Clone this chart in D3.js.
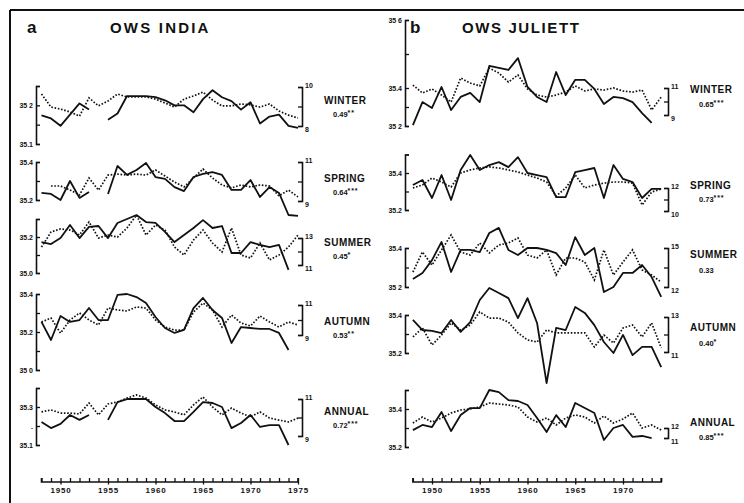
<!DOCTYPE html>
<html>
<head>
<meta charset="utf-8">
<script src="https://cdn.jsdelivr.net/npm/d3@7"></script>
<style>
  html, body { margin: 0; padding: 0; background: #fff; }
  svg { display: block; }
  text { font-family: 'Liberation Sans', Arial, sans-serif; font-weight: bold; fill: #111; }
</style>
</head>
<body>
<div id="chart"></div>
<script>
// ── OWS India / OWS Juliett: salinity (solid) vs temperature (dotted) ──

const seasons = ['WINTER', 'SPRING', 'SUMMER', 'AUTUMN', 'ANNUAL']
const indiaCorr = ['0.49', '0.64', '0.45', '0.53', '0.72']
const indiaStars = ['**', '***', '*', '**', '***']
const juliettCorr = ['0.65', '0.73', '0.33', '0.40', '0.85']
const juliettStars = ['***', '***', '', '*', '***']

const indiaYears = d3.range(1948, 1976)
const juliettYears = d3.range(1948, 1975)
const indiaXTicks = d3.range(1948, 1976)
const juliettXTicks = d3.range(1948, 1975)

// OWS India, 1948-1975 (null = no data)
const indiaWinterSal = [35.174, 35.166, 35.147, 35.176, 35.205, 35.189, null, 35.163, 35.179, 35.224, 35.224, 35.224, 35.221, 35.213, 35.200, 35.200, 35.182, 35.216, 35.239, 35.221, 35.211, 35.189, 35.208, 35.153, 35.171, 35.176, 35.147, 35.142]
const indiaWinterTemp = [9.64, 8.97, 8.87, 8.72, 8.51, 9.44, 9.03, 9.28, 9.64, 9.49, 9.49, 9.49, 9.38, 9.18, 8.97, 9.38, 9.54, 9.74, 9.33, 9.03, 9.03, 9.13, 9.08, 8.97, 9.13, 8.77, 8.56, 8.41]
const indiaSpringSal = [35.237, 35.232, 35.200, 35.300, 35.211, 35.242, null, 35.232, 35.379, 35.332, 35.358, 35.395, 35.321, 35.311, 35.268, 35.247, 35.321, 35.337, 35.347, 35.332, 35.253, 35.253, 35.305, 35.216, 35.268, 35.237, 35.121, 35.116]
const indiaSpringTemp = [null, 9.77, 9.77, 9.56, 9.31, 10.18, 9.56, 10.33, 10.38, 10.33, 10.38, 10.33, 10.59, 10.28, 9.97, 9.72, 10.18, 10.64, 10.18, 9.82, 9.67, 9.82, 9.72, 9.82, 9.77, 9.26, 9.56, 9.21]
const indiaSummerSal = [35.172, 35.161, 35.194, 35.267, 35.194, 35.256, 35.261, 35.194, 35.278, 35.300, 35.322, 35.283, 35.278, 35.228, 35.172, 35.211, 35.250, 35.294, 35.250, 35.261, 35.111, 35.111, 35.172, 35.156, 35.144, 35.156, 35.017, null]
const indiaSummerTemp = [12.33, 13.44, 13.67, 13.59, 13.22, 14.19, 13.0, 13.22, 13.07, 13.74, 14.70, 13.22, 13.96, 13.59, 12.33, 11.74, 12.85, 13.59, 12.63, 11.96, 13.74, 11.74, 11.52, 12.63, 11.37, 11.74, 12.33, 13.22]
const indiaAutumnSal = [35.253, 35.158, 35.284, 35.253, 35.263, 35.326, 35.263, 35.263, 35.395, 35.400, 35.384, 35.353, 35.279, 35.221, 35.195, 35.211, 35.326, 35.379, 35.316, 35.274, 35.142, 35.226, 35.221, 35.216, 35.216, 35.195, 35.105, null]
const indiaAutumnTemp = [9.87, 10.13, 9.13, 10.0, 10.47, 10.0, 9.67, 10.80, 10.67, 10.60, 10.87, 10.80, 10.0, 9.53, 9.33, 9.33, 10.53, 11.13, 10.67, 9.53, 10.33, 9.80, 9.60, 10.27, 9.87, 9.53, 9.87, 9.67]
const indiaAnnualSal = [35.221, 35.189, 35.211, 35.258, 35.232, 35.258, null, 35.232, 35.326, 35.342, 35.342, 35.342, 35.300, 35.268, 35.226, 35.226, 35.274, 35.326, 35.321, 35.300, 35.189, 35.216, 35.258, 35.195, 35.205, 35.205, 35.100, null]
const indiaAnnualTemp = [10.30, 10.41, 10.24, 10.24, 10.19, 10.78, 10.14, 10.73, 10.84, 11.05, 11.22, 11.05, 10.68, 10.41, 10.30, 10.14, 10.68, 11.11, 10.57, 10.14, 10.51, 10.24, 10.03, 10.30, 9.97, 9.86, 9.76, 9.97]

// OWS Juliett, 1948-1974
const juliettWinterSal = [35.205, 35.326, 35.295, 35.403, 35.284, 35.353, 35.374, 35.326, 35.465, 35.459, 35.453, 35.488, 35.403, 35.353, 35.326, 35.447, 35.363, 35.424, 35.424, 35.395, 35.316, 35.353, 35.347, 35.326, 35.268, 35.216, null]
const juliettWinterTemp = [11.22, 10.63, 10.93, 10.48, 9.96, 11.74, 11.37, 11.15, 12.48, 12.11, 11.44, 11.96, 10.93, 10.48, 10.33, 10.48, 10.70, 11.15, 10.78, 10.93, 10.85, 11.0, 10.78, 10.70, 10.85, 9.37, 10.33]
const juliettSpringSal = [35.335, 35.362, 35.265, 35.389, 35.254, 35.416, 35.497, 35.416, 35.443, 35.459, 35.432, 35.486, 35.400, 35.389, 35.378, 35.270, 35.270, 35.405, 35.416, 35.427, 35.265, 35.443, 35.368, 35.351, 35.265, 35.314, 35.314]
const juliettSpringTemp = [12.0, 12.26, 12.87, 12.52, 12.09, 13.30, 13.57, 13.74, 13.83, 13.74, 13.57, 13.39, 13.13, 12.87, 12.52, 11.30, 12.0, 13.13, 12.0, 12.26, 12.43, 12.52, 12.52, 12.43, 10.52, 11.65, 11.91]
const juliettSummerSal = [35.241, 35.272, 35.338, 35.431, 35.277, 35.390, 35.390, 35.379, 35.477, 35.503, 35.390, 35.364, 35.400, 35.400, 35.390, 35.374, 35.313, 35.456, 35.364, 35.400, 35.174, 35.200, 35.272, 35.272, 35.313, 35.251, 35.149]
const juliettSummerTemp = [13.15, 14.69, 13.69, 14.85, 16.0, 14.69, 14.46, 15.38, 14.62, 15.23, 15.38, 15.77, 14.46, 14.23, 14.85, 12.92, 14.23, 14.23, 13.92, 12.54, 14.85, 12.92, 13.92, 14.85, 13.31, 12.92, 12.38]
const juliettAutumnSal = [35.374, 35.321, 35.316, 35.305, 35.374, 35.311, 35.363, 35.479, 35.542, 35.516, 35.489, 35.384, 35.489, 35.358, 35.042, 35.332, 35.321, 35.442, 35.411, 35.347, 35.258, 35.200, 35.295, 35.189, 35.232, 35.232, 35.126]
const juliettAutumnTemp = [11.86, 12.37, 11.40, 11.97, 12.66, 12.26, 12.54, 13.29, 12.94, 12.94, 12.71, 12.09, 11.69, 11.57, 12.26, 12.09, 12.09, 12.09, 12.09, 11.29, 11.97, 11.51, 12.37, 12.54, 11.86, 12.66, 11.23]
const juliettAnnualSal = [35.289, 35.316, 35.305, 35.384, 35.284, 35.368, 35.405, 35.405, 35.500, 35.489, 35.447, 35.442, 35.421, 35.353, 35.279, 35.368, 35.305, 35.432, 35.405, 35.379, 35.237, 35.300, 35.316, 35.253, 35.258, 35.247, null]
const juliettAnnualTemp = [12.5, 13.1, 12.6, 13.0, 13.5, 13.8, 13.9, 14.1, 14.5, 14.4, 14.3, 14.1, 13.1, 12.6, 13.0, 12.3, 13.0, 13.3, 13.1, 12.5, 13.2, 12.5, 12.9, 13.5, 12.0, 12.3, 11.8]

// Axis ticks (salinity, left) and bracket ticks (temperature, right)
const indiaSalTicks = [[35.1, 35.15, 35.2, 35.25], [35.2, 35.3, 35.4], [35.0, 35.1, 35.2, 35.3], [35.0, 35.1, 35.2, 35.3, 35.4], [35.1, 35.2, 35.3, 35.4]]
const indiaSalLabels = [['35.1', '', '35 2', ''], ['35.2', '', '35.4'], ['35.0', '', '35.2', ''], ['35 0', '', '35.2', '', '35.4'], ['35.1', '.', '35.3', '']]
const indiaTempTicks = [[8, 9, 10], [9, 10, 11], [11, 12, 13], [9, 10, 11], [9, 10, 11]]
const juliettSalTicks = [[35.2, 35.3, 35.4, 35.5, 35.6], [35.2, 35.3, 35.4, 35.5], [35.2, 35.3, 35.4], [35.2, 35.3, 35.4], [35.2, 35.3, 35.4, 35.5]]
const juliettSalLabels = [['35 2', '', '35.4', '', '35 6'], ['35.2', '', '35.4', ''], ['35 2', '', '35.4'], ['35.2', '', '35.4'], ['35.2', '', '35.4', '']]
const juliettTempTicks = [[9, 10, 11], [10, 11, 12], [12, 13.5, 15], [11, 12, 13], [11, 12]]
const xTickLabels = [1950, 1955, 1960, 1965, 1970, 1975]

// ── layout (pixels) ──
const W = 744, H = 503
const layout = {
  india: {
    x: { domain: [1950, 1975], range: [60.5, 298] },
    axisX: 36, bracketX: 302, nameX: 324,
    rows: [
      { sal: [35.1, 35.25], salPx: [144, 86], tmp: [8, 10], tmpPx: [126, 87], nameY: 104, corrY: 117 },
      { sal: [35.2, 35.4], salPx: [200, 162], tmp: [9, 11], tmpPx: [201, 162], nameY: 182, corrY: 195 },
      { sal: [35.0, 35.3], salPx: [273, 219], tmp: [11, 13], tmpPx: [265, 238], nameY: 246, corrY: 259 },
      { sal: [35.0, 35.4], salPx: [370, 294], tmp: [9, 11], tmpPx: [335, 305], nameY: 325, corrY: 338 },
      { sal: [35.1, 35.4], salPx: [445, 388], tmp: [9, 11], tmpPx: [436, 399], nameY: 415, corrY: 428 },
    ],
  },
  juliett: {
    x: { domain: [1950, 1970], range: [432, 623] },
    axisX: 405, bracketX: 668, nameX: 690,
    rows: [
      { sal: [35.2, 35.4, 35.6], salPx: [126, 88, 20], tmp: [9, 11], tmpPx: [115, 88], nameY: 93, corrY: 107 },
      { sal: [35.2, 35.5], salPx: [210, 154.5], tmp: [10, 12], tmpPx: [211, 188], nameY: 189, corrY: 202 },
      { sal: [35.2, 35.4], salPx: [287, 248], tmp: [12, 15], tmpPx: [287, 248], nameY: 258, corrY: 273 },
      { sal: [35.2, 35.4], salPx: [353, 315], tmp: [11, 13], tmpPx: [352, 317], nameY: 331, corrY: 346 },
      { sal: [35.2, 35.5], salPx: [447, 390], tmp: [11, 12], tmpPx: [438, 428], nameY: 426, corrY: 440 },
    ],
  },
}
const xAxisY = 482

const svg = d3.select('#chart').append('svg')
  .attr('width', W).attr('height', H)
  .attr('viewBox', `0 0 ${W} ${H}`)

// frame (top and left rules of the printed figure)
svg.append('line').attr('x1', 10).attr('x2', W).attr('y1', 10).attr('y2', 10)
  .attr('stroke', '#111').attr('stroke-width', 2)
svg.append('line').attr('x1', 10).attr('x2', 10).attr('y1', 10).attr('y2', H)
  .attr('stroke', '#111').attr('stroke-width', 2)

function styleAxis(sel, fs) {
  sel.select('.domain').attr('stroke', '#111').attr('stroke-width', 1.6)
  sel.selectAll('.tick line').attr('stroke', '#111').attr('stroke-width', 1.3)
  sel.selectAll('.tick text').attr('font-size', fs).attr('fill', '#111')
    .style('font-family', "'Liberation Sans', Arial, sans-serif")
    .style('font-weight', 'bold')
}

function drawStation(cfg, years, salSeries, tempSeries, salTicks, salLabels, tempTicks, corr, stars, xTicks) {
  const x = d3.scaleLinear().domain(cfg.x.domain).range(cfg.x.range)
  const g = svg.append('g')

  cfg.rows.forEach((row, i) => {
    const sal = d3.scaleLinear().domain(row.sal).range(row.salPx)
    const tmp = d3.scaleLinear().domain(row.tmp).range(row.tmpPx)

    // salinity axis (bracket opening to the right, labels on the left)
    const la = g.append('g').attr('transform', `translate(${cfg.axisX},0)`)
      .call(d3.axisLeft(sal).tickValues(salTicks[i]).tickSize(-4).tickPadding(3)
        .tickFormat((d, k) => salLabels[i][k]))
    styleAxis(la, 7)

    // temperature bracket (opening to the left, labels on the right)
    const tt = tempTicks[i]
    const ra = g.append('g').attr('transform', `translate(${cfg.bracketX},0)`)
      .call(d3.axisRight(tmp).tickValues(tt).tickSize(-4).tickPadding(3)
        .tickFormat((d, k) => (k === 0 || k === tt.length - 1) ? d : ''))
    styleAxis(ra, 7)
    ra.selectAll('.tick text').attr('dy', (d, k) => k === tt.length - 1 ? '0em' : '0.75em')

    const line = d3.line()
      .defined(d => d.v != null)
      .x(d => x(d.year))

    const salData = years.map((year, k) => ({ year, v: salSeries[i][k] }))
    const tmpData = years.map((year, k) => ({ year, v: tempSeries[i][k] }))

    g.append('path').datum(tmpData)
      .attr('fill', 'none').attr('stroke', '#111')
      .attr('stroke-width', 1.7).attr('stroke-dasharray', '1.6 1.7')
      .attr('d', line.y(d => tmp(d.v)))

    g.append('path').datum(salData)
      .attr('fill', 'none').attr('stroke', '#111')
      .attr('stroke-width', 1.8).attr('stroke-linejoin', 'round')
      .attr('d', line.y(d => sal(d.v)))

    g.append('text').attr('x', cfg.nameX).attr('y', row.nameY)
      .attr('font-size', 10).attr('letter-spacing', 0.5)
      .text(seasons[i])

    const ct = g.append('text').attr('x', cfg.nameX + 9).attr('y', row.corrY)
      .attr('font-size', 7.5)
    ct.append('tspan').text(corr[i])
    if (stars[i]) ct.append('tspan').attr('dy', -2.5).attr('font-size', 7).attr('letter-spacing', 0.8).text(stars[i])
  })

  // time axis: small ticks every year, labels every 5 years
  const xa = g.append('g').attr('transform', `translate(0,${xAxisY})`)
    .call(d3.axisBottom(x).tickValues(xTicks).tickSizeInner(-4).tickSizeOuter(-4).tickPadding(5)
      .tickFormat(d => xTickLabels.includes(d) ? d : ''))
  xa.select('.domain').attr('d', `M${x(xTicks[0])},-4V0H${x(xTicks[xTicks.length - 1])}V-4`)
  styleAxis(xa, 8)
  xa.selectAll('.tick text').attr('letter-spacing', 0.8)
  xa.selectAll('.tick').filter(d => d % 5 === 0)
    .append('line').attr('y1', 0).attr('y2', 2.5).attr('stroke', '#111').attr('stroke-width', 1.3)
}

drawStation(layout.india, indiaYears,
  [indiaWinterSal, indiaSpringSal, indiaSummerSal, indiaAutumnSal, indiaAnnualSal],
  [indiaWinterTemp, indiaSpringTemp, indiaSummerTemp, indiaAutumnTemp, indiaAnnualTemp],
  indiaSalTicks, indiaSalLabels, indiaTempTicks, indiaCorr, indiaStars, indiaXTicks)

drawStation(layout.juliett, juliettYears,
  [juliettWinterSal, juliettSpringSal, juliettSummerSal, juliettAutumnSal, juliettAnnualSal],
  [juliettWinterTemp, juliettSpringTemp, juliettSummerTemp, juliettAutumnTemp, juliettAnnualTemp],
  juliettSalTicks, juliettSalLabels, juliettTempTicks, juliettCorr, juliettStars, juliettXTicks)

// panel titles
svg.append('text').attr('x', 27).attr('y', 33).attr('font-size', 17).text('a')
svg.append('text').attr('x', 110).attr('y', 33).attr('font-size', 15).attr('letter-spacing', 2.2).text('OWS INDIA')
svg.append('text').attr('x', 410).attr('y', 33).attr('font-size', 17).text('b')
svg.append('text').attr('x', 462).attr('y', 33).attr('font-size', 15).attr('letter-spacing', 1.6).text('OWS JULIETT')
</script>
</body>
</html>
